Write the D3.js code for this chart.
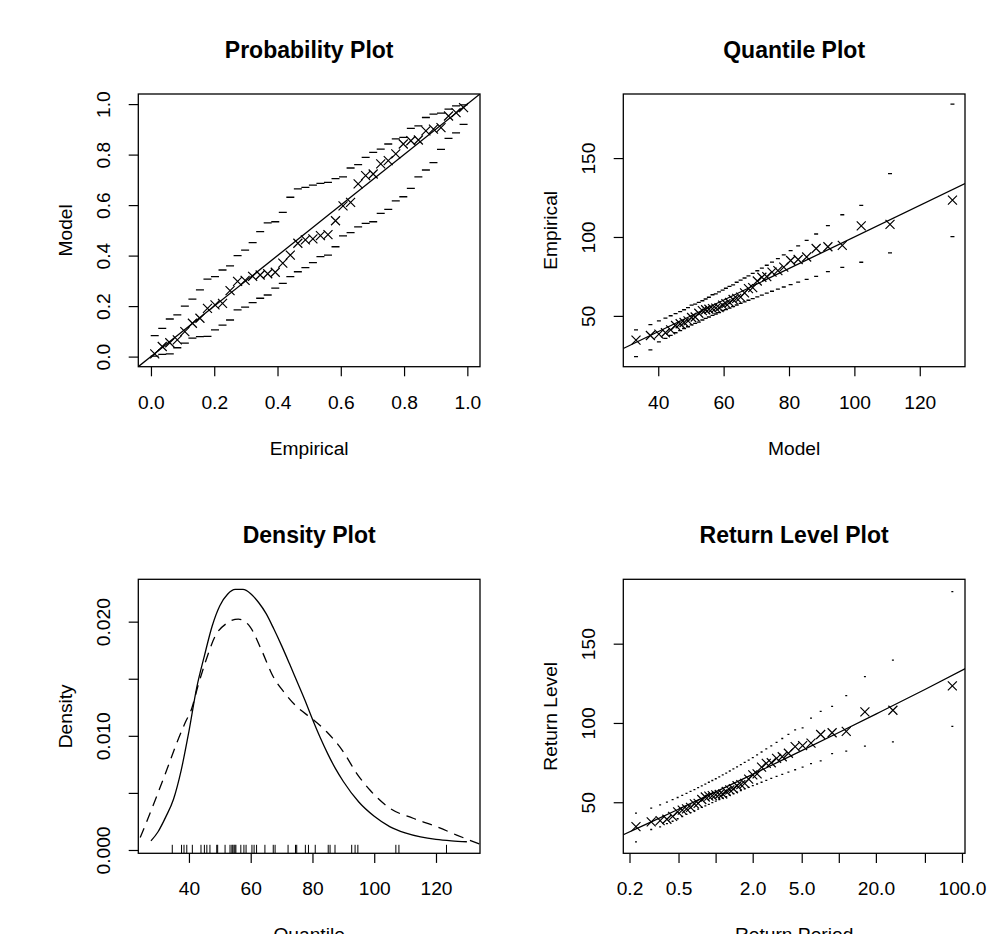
<!DOCTYPE html>
<html>
<head>
<meta charset="utf-8">
<script src="https://cdn.jsdelivr.net/npm/d3@7"></script>
<style>
  body { margin: 0; background: #fff; }
  svg { display: block; font-family: "Liberation Sans", Arial, Helvetica, sans-serif; }
</style>
</head>
<body>
<div id="chart"></div>
<script>
// plotting positions of the 42 sorted observations
const empProb = [0.0119,0.0357,0.0595,0.0833,0.1071,0.1310,0.1548,0.1786,0.2024,0.2262,0.2500,0.2738,0.2976,0.3214,0.3452,0.3690,0.3929,0.4167,0.4405,0.4643,0.4881,0.5119,0.5357,0.5595,0.5833,0.6071,0.6310,0.6548,0.6786,0.7024,0.7262,0.7500,0.7738,0.7976,0.8214,0.8452,0.8690,0.8929,0.9167,0.9405,0.9643,0.9881];
const modelProb = [0.011,0.040,0.055,0.066,0.099,0.132,0.152,0.191,0.205,0.211,0.261,0.298,0.302,0.318,0.323,0.328,0.334,0.370,0.402,0.449,0.462,0.466,0.479,0.483,0.538,0.597,0.611,0.684,0.717,0.723,0.763,0.776,0.803,0.842,0.855,0.858,0.894,0.901,0.907,0.953,0.966,0.986];
const probLower = [0.002,0.009,0.011,0.035,0.053,0.073,0.079,0.080,0.106,0.125,0.145,0.185,0.196,0.214,0.231,0.244,0.271,0.290,0.317,0.336,0.352,0.372,0.396,0.402,0.435,0.478,0.491,0.514,0.528,0.534,0.567,0.583,0.617,0.633,0.666,0.712,0.739,0.768,0.821,0.864,0.886,0.920];
const probUpper = [0.083,0.112,0.149,0.165,0.200,0.228,0.264,0.307,0.317,0.343,0.359,0.400,0.422,0.451,0.495,0.530,0.534,0.571,0.631,0.664,0.670,0.679,0.686,0.690,0.705,0.712,0.747,0.760,0.789,0.809,0.822,0.842,0.862,0.868,0.904,0.914,0.947,0.960,0.964,0.980,0.993,0.997];

// sorted data and fitted quantiles
const obs = [34.6,37.6,38.4,39.3,41.1,43.9,45.0,45.8,46.8,49.0,49.3,51.7,53.3,53.9,54.2,54.6,54.9,55.2,56.8,57.8,58.5,60.4,61.1,61.9,64.6,67.3,67.9,72.1,74.5,74.9,77.7,78.7,80.9,85.1,85.7,87.3,92.7,93.8,94.7,107.0,108.0,123.4];
const modelQuant = [33.2,37.6,40.2,42.2,43.8,45.3,46.7,47.9,49.1,50.2,51.3,52.4,53.5,54.5,55.5,56.6,57.6,58.6,59.7,60.7,61.8,62.9,64.0,65.2,66.4,67.6,68.9,70.3,71.7,73.2,74.8,76.6,78.4,80.5,82.8,85.4,88.3,91.9,96.3,102.1,110.9,130.0];
const quantLower = [24.2,28.5,33.5,35.8,37.6,39.3,40.7,42.0,43.1,44.3,45.3,46.0,47.4,48.4,49.3,50.3,51.2,52.1,53.4,54.0,54.9,55.9,56.9,57.9,58.9,59.9,61.0,62.0,63.2,64.4,65.6,67.0,68.3,69.8,71.4,73.1,75.0,78.0,80.8,84.0,89.9,100.2];
const quantUpper = [41.1,44.5,46.9,48.6,50.1,51.4,52.7,53.9,55.2,56.8,57.4,58.5,59.6,60.7,61.8,63.4,64.0,65.2,66.3,67.5,68.7,69.6,71.3,72.6,74.0,75.4,76.9,78.6,80.3,82.1,84.1,86.3,88.7,91.4,94.4,97.8,101.9,107.2,114.1,120.0,140.1,184.2];

// density plot
const densX = [27.7,30,32.5,35,37.5,40,42.5,45,47.5,50,52.5,55,57.5,60,62.5,65,67.5,70,72.5,75,77.5,80,82.5,85,87.5,90,95,100,105,110,115,120,125,130];
const densModel = [0.00080,0.00160,0.00290,0.00445,0.00700,0.01040,0.01420,0.01700,0.01960,0.02140,0.02240,0.02282,0.02282,0.02245,0.02170,0.02070,0.01935,0.01790,0.01635,0.01475,0.01315,0.01145,0.00985,0.00840,0.00710,0.00600,0.00420,0.00295,0.00205,0.00150,0.00115,0.00093,0.00080,0.00072];
const kdeX = [23.6,25.75,29.5,32.8,36.0,38.7,40.9,43.0,45.2,48.4,52.2,56.0,59.8,63.5,67.3,71.1,74.9,79.7,84.6,90.0,94.3,98.6,105.1,112.6,120.2,126.7,134.3];
const kdeY = [0.0007,0.0021,0.00467,0.0070,0.00934,0.0111,0.0124,0.01445,0.01635,0.01868,0.01985,0.02023,0.01955,0.01751,0.01517,0.01372,0.01255,0.01153,0.01036,0.0086,0.00672,0.00525,0.00365,0.00278,0.00204,0.00131,0.0005];

// return level plot
const returnPeriod = [0.2257,0.3001,0.3544,0.4024,0.4477,0.4919,0.5359,0.5805,0.6259,0.6728,0.7213,0.7720,0.8251,0.8811,0.9403,1.0032,1.0703,1.1422,1.2197,1.3033,1.3943,1.4934,1.6023,1.7221,1.8553,2.0040,2.1716,2.3613,2.5787,2.8305,3.1260,3.4758,3.8986,4.4228,5.0839,5.9488,7.1276,8.8261,11.493,16.295,27.495,83.50];
const rlLower = [25.0,32.8,34.5,36.5,38.0,39.6,41.0,42.3,43.5,44.6,45.6,46.7,47.7,48.7,49.7,50.7,51.6,52.6,53.5,54.5,55.4,56.4,57.4,58.4,59.4,60.5,61.5,62.6,63.8,65.0,66.3,67.6,69.0,70.5,72.2,74.4,76.1,80.6,82.3,85.4,88.1,97.9];
const rlUpper = [43.1,46.3,48.4,50.1,51.6,53.0,54.3,55.6,56.8,58.0,59.2,60.3,61.4,62.6,63.7,64.8,66.0,67.2,68.4,69.7,71.0,72.3,73.7,75.1,76.6,78.2,79.9,81.7,83.6,85.6,87.8,90.2,92.8,95.6,96.9,103.1,107.3,110.4,117.3,129.2,139.6,182.8];
const rlCurvePeriod = [0.17,0.25,0.5,1,2,5,10,20,50,110];
const rlCurveLevel = [28.8,34.8,45.6,56.5,67.6,82.5,94.0,105.6,121.1,134.8];

// ticks
const probTicks = [0, 0.2, 0.4, 0.6, 0.8, 1.0];
const quantXTicks = [40, 60, 80, 100, 120];
const levelTicks = [50, 100, 150];
const densXTicks = [40, 60, 80, 100, 120];
const densYTicks = [0, 0.005, 0.010, 0.015, 0.020];
const densYLabels = ['0.000', '', '0.010', '', '0.020'];
const rlTicks = [0.2, 0.5, 1, 2, 5, 10, 20, 50, 100];
const rlLabels = ['0.2', '0.5', '', '2.0', '5.0', '', '20.0', '', '100.0'];

const svg = d3.select('#chart').append('svg')
    .attr('width', 997)
    .attr('height', 934);

const FS = 19.2;

function makePanel(id, box, x, y, o) {
    const g = svg.append('g');

    g.append('clipPath').attr('id', 'clip-' + id)
        .append('rect')
        .attr('x', box.left).attr('y', box.top)
        .attr('width', box.right - box.left).attr('height', box.bottom - box.top);

    // eixo x
    const ax = g.append('g')
        .attr('transform', `translate(0,${box.bottom})`)
        .call(d3.axisBottom(x).tickValues(o.xTicks).tickFormat((d, i) => o.xLabels[i]).tickSize(9.6).tickPadding(18.6));
    ax.select('.domain').remove();

    // eixo y, rótulos rodados como no R
    const ay = g.append('g')
        .attr('transform', `translate(${box.left},0)`)
        .call(d3.axisLeft(y).tickValues(o.yTicks).tickFormat((d, i) => o.yLabels[i]).tickSize(9.6));
    ay.select('.domain').remove();
    ay.selectAll('text')
        .attr('x', null).attr('dy', null)
        .attr('text-anchor', 'middle')
        .attr('transform', 'translate(-28,0) rotate(-90)');

    [ax, ay].forEach(a => {
        a.attr('font-size', FS).attr('font-family', null);
        a.selectAll('line').attr('stroke', '#000').attr('stroke-width', 1.2);
        a.selectAll('text').attr('fill', '#000');
    });

    const cx = (box.left + box.right) / 2;
    const cy = (box.top + box.bottom) / 2;

    g.append('text')
        .attr('x', cx).attr('y', box.top - 36.5)
        .attr('text-anchor', 'middle')
        .style('font-size', '23px').style('font-weight', 'bold')
        .text(o.title);

    g.append('text')
        .attr('x', cx).attr('y', box.bottom + 88)
        .attr('text-anchor', 'middle')
        .style('font-size', FS + 'px')
        .text(o.xTitle);

    g.append('text')
        .attr('transform', `translate(${box.left - 66},${cy}) rotate(-90)`)
        .attr('text-anchor', 'middle')
        .style('font-size', FS + 'px')
        .text(o.yTitle);

    const plot = g.append('g').attr('clip-path', `url(#clip-${id})`);

    g.append('rect')
        .attr('x', box.left).attr('y', box.top)
        .attr('width', box.right - box.left).attr('height', box.bottom - box.top)
        .attr('fill', 'none').attr('stroke', '#000').attr('stroke-width', 1.3);

    return plot;
}

function crosses(plot, xs, ys, x, y) {
    plot.selectAll(null)
        .data(xs.map((d, i) => [d, ys[i]]))
        .enter()
        .append('path')
        .attr('transform', d => `translate(${x(d[0])},${y(d[1])})`)
        .attr('d', 'M-4.5,-4.5L4.5,4.5M-4.5,4.5L4.5,-4.5')
        .attr('stroke', '#000').attr('stroke-width', 1.2).attr('fill', 'none');
}

function dashes(plot, xs, ys, x, y, half) {
    plot.selectAll(null)
        .data(xs.map((d, i) => [d, ys[i]]))
        .enter()
        .append('line')
        .attr('x1', d => x(d[0]) - half).attr('x2', d => x(d[0]) + half)
        .attr('y1', d => y(d[1])).attr('y2', d => y(d[1]))
        .attr('stroke', '#000').attr('stroke-width', 1.3);
}

function line(plot, xs, ys, x, y, dash) {
    const path = plot.append('path')
        .datum(xs.map((d, i) => [d, ys[i]]))
        .attr('d', d3.line().x(d => x(d[0])).y(d => y(d[1])).curve(d3.curveMonotoneX))
        .attr('fill', 'none').attr('stroke', '#000').attr('stroke-width', 1.3);
    if (dash) path.attr('stroke-dasharray', dash).attr('stroke-dashoffset', 12);
}

// Probability Plot
{
    const box = {left: 138.3, right: 480, top: 94, bottom: 366.7};
    const x = d3.scaleLinear().domain([-0.04, 1.04]).range([box.left, box.right]);
    const y = d3.scaleLinear().domain([-0.04, 1.04]).range([box.bottom, box.top]);
    const fmt = d3.format('.1f');
    const plot = makePanel('prob', box, x, y, {
        xTicks: probTicks, xLabels: probTicks.map(fmt),
        yTicks: probTicks, yLabels: probTicks.map(fmt),
        title: 'Probability Plot', xTitle: 'Empirical', yTitle: 'Model'
    });
    line(plot, x.domain(), y.domain(), x, y);
    dashes(plot, empProb, probLower, x, y, 4);
    dashes(plot, empProb, probUpper, x, y, 4);
    crosses(plot, empProb, modelProb, x, y);
}

// Quantile Plot
{
    const box = {left: 623.3, right: 965, top: 94, bottom: 366.7};
    const x = d3.scaleLinear().domain([29.31, 133.84]).range([box.left, box.right]);
    const y = d3.scaleLinear().domain([17.8, 190.6]).range([box.bottom, box.top]);
    const plot = makePanel('quant', box, x, y, {
        xTicks: quantXTicks, xLabels: quantXTicks.map(String),
        yTicks: levelTicks, yLabels: levelTicks.map(String),
        title: 'Quantile Plot', xTitle: 'Model', yTitle: 'Empirical'
    });
    line(plot, x.domain(), x.domain(), x, y);
    dashes(plot, modelQuant, quantLower, x, y, 2);
    dashes(plot, modelQuant, quantUpper, x, y, 2);
    crosses(plot, modelQuant, obs, x, y);
}

// Density Plot
{
    const box = {left: 138.3, right: 480, top: 579.3, bottom: 853.3};
    const x = d3.scaleLinear().domain([23.6, 134.25]).range([box.left, box.right]);
    const y = d3.scaleLinear().domain([-0.00029, 0.02371]).range([box.bottom, box.top]);
    const plot = makePanel('dens', box, x, y, {
        xTicks: densXTicks, xLabels: densXTicks.map(String),
        yTicks: densYTicks, yLabels: densYLabels,
        title: 'Density Plot', xTitle: 'Quantile', yTitle: 'Density'
    });
    line(plot, densX, densModel, x, y);
    line(plot, kdeX, kdeY, x, y, '10,7');
    plot.selectAll(null)
        .data(obs)
        .enter()
        .append('line')
        .attr('x1', d => x(d)).attr('x2', d => x(d))
        .attr('y1', box.bottom).attr('y2', box.bottom - 8.5)
        .attr('stroke', '#000').attr('stroke-width', 1);
}

// Return Level Plot
{
    const box = {left: 623.3, right: 965, top: 579.3, bottom: 853.3};
    const x = d3.scaleLog().domain([0.1781, 105.8]).range([box.left, box.right]);
    const y = d3.scaleLinear().domain([17.8, 190.6]).range([box.bottom, box.top]);
    const plot = makePanel('rl', box, x, y, {
        xTicks: rlTicks, xLabels: rlLabels,
        yTicks: levelTicks, yLabels: levelTicks.map(String),
        title: 'Return Level Plot', xTitle: 'Return Period', yTitle: 'Return Level'
    });
    line(plot, rlCurvePeriod, rlCurveLevel, x, y);
    dashes(plot, returnPeriod, rlLower, x, y, 1);
    dashes(plot, returnPeriod, rlUpper, x, y, 1);
    crosses(plot, returnPeriod, obs, x, y);
}
</script>
</body>
</html>
